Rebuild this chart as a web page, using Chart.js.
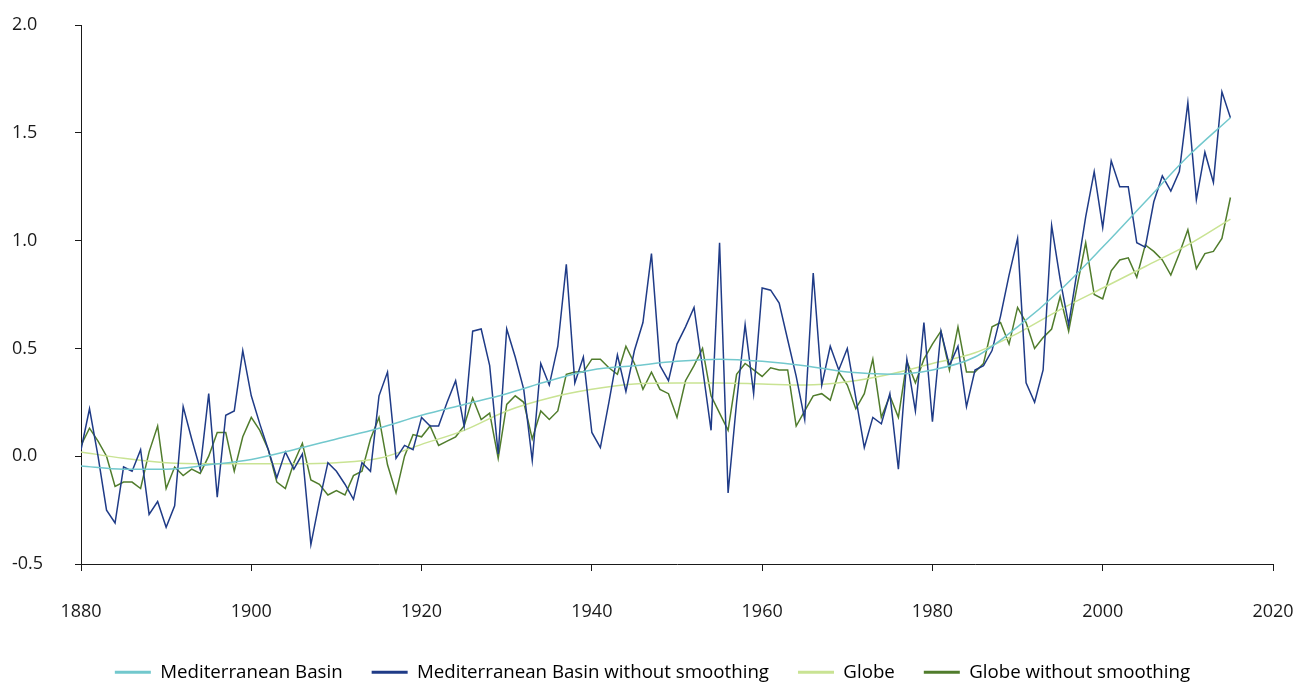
<!DOCTYPE html>
<html>
<head>
<meta charset="utf-8">
<title>Temperature anomalies: Mediterranean Basin and Globe</title>
<script src="https://cdn.jsdelivr.net/npm/chart.js@4/dist/chart.umd.min.js"></script>
<style>
  html, body { margin: 0; padding: 0; background: #ffffff; }
  #wrap { width: 1293px; height: 682px; }
</style>
</head>
<body>
<div id="wrap"><canvas id="chart" width="1293" height="682"></canvas></div>
<script>
// Annual series start in this year, one value per year
const firstYear = 1880;

// Annual anomalies, Mediterranean Basin (no smoothing), 1880-2015
const medRaw = [
  0.03, 0.22, 0.00, -0.25, -0.31, -0.05, -0.07, 0.03, -0.27, -0.21,
  -0.33, -0.23, 0.23, 0.08, -0.06, 0.29, -0.19, 0.19, 0.21, 0.49,
  0.28, 0.15, 0.03, -0.10, 0.02, -0.06, 0.01, -0.41, -0.21, -0.03,
  -0.07, -0.13, -0.20, -0.03, -0.07, 0.28, 0.39, -0.01, 0.05, 0.03,
  0.18, 0.14, 0.14, 0.25, 0.35, 0.14, 0.58, 0.59, 0.42, 0.01,
  0.59, 0.46, 0.31, -0.02, 0.43, 0.33, 0.51, 0.89, 0.34, 0.46,
  0.11, 0.04, 0.25, 0.47, 0.30, 0.49, 0.62, 0.94, 0.42, 0.35,
  0.52, 0.60, 0.69, 0.41, 0.12, 0.99, -0.17, 0.25, 0.61, 0.29,
  0.78, 0.77, 0.71, 0.54, 0.37, 0.17, 0.85, 0.33, 0.51, 0.40,
  0.50, 0.27, 0.04, 0.18, 0.15, 0.29, -0.06, 0.45, 0.21, 0.62,
  0.16, 0.58, 0.42, 0.51, 0.23, 0.40, 0.42, 0.49, 0.65, 0.84,
  1.01, 0.34, 0.25, 0.40, 1.07, 0.82, 0.61, 0.86, 1.11, 1.32,
  1.06, 1.37, 1.25, 1.25, 0.99, 0.97, 1.18, 1.30, 1.23, 1.32,
  1.64, 1.19, 1.41, 1.27, 1.69, 1.57
];

// Annual anomalies, Globe (no smoothing), 1880-2015
const globeRaw = [
  0.05, 0.13, 0.07, 0.00, -0.14, -0.12, -0.12, -0.15, 0.02, 0.14,
  -0.15, -0.05, -0.09, -0.06, -0.08, 0.00, 0.11, 0.11, -0.07, 0.09,
  0.18, 0.12, 0.03, -0.12, -0.15, -0.03, 0.06, -0.11, -0.13, -0.18,
  -0.16, -0.18, -0.09, -0.07, 0.08, 0.18, -0.04, -0.17, 0.00, 0.10,
  0.09, 0.14, 0.05, 0.07, 0.09, 0.14, 0.27, 0.17, 0.20, -0.01,
  0.24, 0.28, 0.25, 0.08, 0.21, 0.17, 0.21, 0.38, 0.39, 0.39,
  0.45, 0.45, 0.41, 0.38, 0.51, 0.43, 0.31, 0.39, 0.31, 0.29,
  0.18, 0.35, 0.42, 0.50, 0.28, 0.20, 0.12, 0.38, 0.43, 0.40,
  0.37, 0.41, 0.40, 0.40, 0.14, 0.21, 0.28, 0.29, 0.26, 0.39,
  0.33, 0.22, 0.29, 0.45, 0.18, 0.28, 0.18, 0.44, 0.34, 0.45,
  0.52, 0.58, 0.40, 0.60, 0.39, 0.39, 0.43, 0.60, 0.62, 0.52,
  0.69, 0.62, 0.50, 0.55, 0.59, 0.74, 0.58, 0.79, 0.99, 0.75,
  0.73, 0.86, 0.91, 0.92, 0.83, 0.98, 0.95, 0.91, 0.84, 0.94,
  1.05, 0.87, 0.94, 0.95, 1.01, 1.20
];

// Smoothed curves, sampled every five years
const smoothYears = [
  1880, 1885, 1890, 1895, 1900, 1905, 1910, 1915, 1920, 1925,
  1930, 1935, 1940, 1945, 1950, 1955, 1960, 1965, 1970, 1975,
  1980, 1985, 1990, 1995, 2000, 2005, 2010, 2015
];
const medSmooth = [
  -0.045, -0.06, -0.06, -0.04, -0.015, 0.03, 0.08, 0.13, 0.19, 0.24,
  0.29, 0.35, 0.40, 0.42, 0.44, 0.45, 0.44, 0.42, 0.39, 0.38,
  0.40, 0.46, 0.60, 0.77, 0.97, 1.18, 1.39, 1.57
];
const globeSmooth = [
  0.02, -0.01, -0.03, -0.035, -0.035, -0.035, -0.03, -0.01, 0.055, 0.12,
  0.21, 0.27, 0.31, 0.335, 0.34, 0.34, 0.335, 0.33, 0.345, 0.38,
  0.43, 0.48, 0.57, 0.68, 0.78, 0.88, 0.98, 1.10
];

// Axis ticks
const xTicks = [1880, 1900, 1920, 1940, 1960, 1980, 2000, 2020];
const yTicks = [-0.5, 0.0, 0.5, 1.0, 1.5, 2.0];

const seriesNames = [
  'Mediterranean Basin',
  'Mediterranean Basin without smoothing',
  'Globe',
  'Globe without smoothing'
];
const seriesColors = ['#72c8cd', '#1f3b87', '#c9e393', '#507c2c'];

const toPoints = (xs, ys) => ys.map((v, i) => ({ x: xs[i], y: v }));
const annualPoints = ys => ys.map((v, i) => ({ x: firstYear + i, y: v }));

const inkColor = '#1a1a1a';
const fontFamily = '"Open Sans", "Noto Sans", sans-serif';

const lineBase = {
  pointRadius: 0,
  pointHoverRadius: 0,
  fill: false,
  borderWidth: 1.5
};

new Chart(document.getElementById('chart'), {
  type: 'line',
  data: {
    datasets: [
      Object.assign({}, lineBase, {
        label: seriesNames[0],
        data: toPoints(smoothYears, medSmooth),
        borderColor: seriesColors[0],
        backgroundColor: seriesColors[0],
        cubicInterpolationMode: 'monotone'
      }),
      Object.assign({}, lineBase, {
        label: seriesNames[1],
        data: annualPoints(medRaw),
        borderColor: seriesColors[1],
        backgroundColor: seriesColors[1],
        tension: 0
      }),
      Object.assign({}, lineBase, {
        label: seriesNames[2],
        data: toPoints(smoothYears, globeSmooth),
        borderColor: seriesColors[2],
        backgroundColor: seriesColors[2],
        cubicInterpolationMode: 'monotone'
      }),
      Object.assign({}, lineBase, {
        label: seriesNames[3],
        data: annualPoints(globeRaw),
        borderColor: seriesColors[3],
        backgroundColor: seriesColors[3],
        tension: 0
      })
    ]
  },
  options: {
    responsive: false,
    animation: false,
    devicePixelRatio: 1,
    layout: { padding: { left: 12, right: 0, top: 25, bottom: -9.7 } },
    plugins: {
      tooltip: { enabled: false },
      legend: {
        position: 'bottom',
        align: 'center',
        labels: {
          boxWidth: 36,
          boxHeight: 3,
          padding: 29,
          color: inkColor,
          font: { family: fontFamily, size: 18.7 },
          generateLabels: chart => chart.data.datasets.map((ds, i) => ({
            text: ds.label,
            fillStyle: ds.borderColor,
            strokeStyle: ds.borderColor,
            lineWidth: 0,
            hidden: false,
            datasetIndex: i
          }))
        }
      }
    },
    scales: {
      x: {
        type: 'linear',
        min: xTicks[0],
        max: xTicks[xTicks.length - 1],
        afterBuildTicks: scale => { scale.ticks = xTicks.map(v => ({ value: v })); },
        afterFit: scale => {
          scale.height = 70;
          scale.paddingLeft = 0;
          scale.paddingRight = 20;
        },
        ticks: {
          padding: 30,
          maxRotation: 0,
          color: inkColor,
          font: { family: fontFamily, size: 18 },
          callback: v => String(v)
        },
        border: { display: true, color: inkColor, width: 1 },
        grid: { display: true, drawOnChartArea: false, drawTicks: true, tickLength: 7, color: inkColor }
      },
      y: {
        type: 'linear',
        min: yTicks[0],
        max: yTicks[yTicks.length - 1],
        afterBuildTicks: scale => { scale.ticks = yTicks.map(v => ({ value: v })); },
        afterFit: scale => { scale.width = 69; },
        ticks: {
          crossAlign: 'far',
          color: inkColor,
          font: { family: fontFamily, size: 18 },
          callback: v => Number(v).toFixed(1)
        },
        border: { display: true, color: inkColor, width: 1 },
        grid: { display: true, drawOnChartArea: false, drawTicks: true, tickLength: 6, color: inkColor }
      }
    }
  }
});
</script>
</body>
</html>
